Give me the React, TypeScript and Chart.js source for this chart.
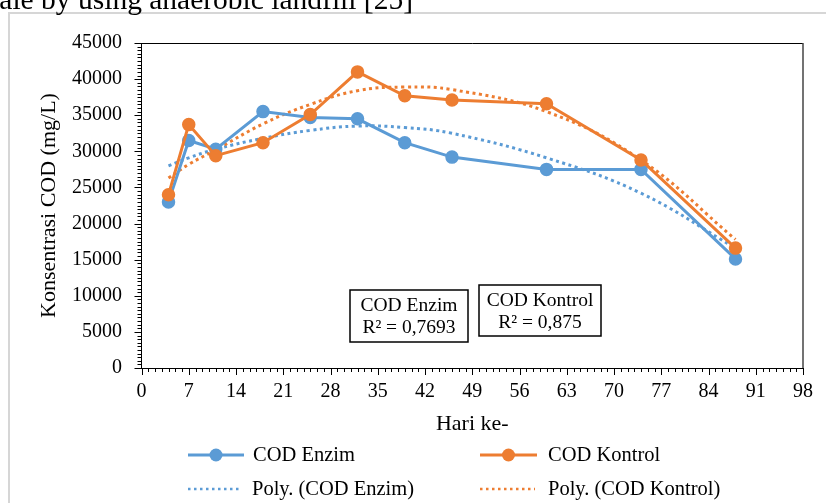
import React, { useEffect, useRef } from "react";
import { Chart, registerables } from "chart.js";

Chart.register(...registerables);

// ---- data ----
const days = [4, 7, 11, 18, 25, 32, 39, 46, 60, 74, 88];
const codEnzim = [23000, 31500, 30300, 35500, 34700, 34500, 31200, 29200, 27500, 27500, 15100];
const codKontrol = [24000, 33700, 29400, 31200, 35100, 41000, 37700, 37100, 36600, 28800, 16600];
// trendline (Excel "Poly.") values at the same days
const polyEnzim = [28000, 29100, 30300, 31800, 32900, 33500, 33300, 32500, 29100, 24200, 16600];
const polyKontrol = [26300, 28200, 30200, 33800, 36500, 38400, 38900, 38550, 35500, 28800, 17800];

const xTickValues = [0, 7, 14, 21, 28, 35, 42, 49, 56, 63, 70, 77, 84, 91, 98];
const yTickValues = [0, 5000, 10000, 15000, 20000, 25000, 30000, 35000, 40000, 45000];
const xMinorStep = 1;
const yMinorStep = 500;

const seriesNames = ["COD Enzim", "COD Kontrol", "Poly. (COD Enzim)", "Poly. (COD Kontrol)"];
const r2Boxes = [
  { title: "COD Enzim", r2: "R\u00B2 = 0,7693" },
  { title: "COD Kontrol", r2: "R\u00B2 = 0,875" },
];
const xTitle = "Hari ke-";
const yTitle = "Konsentrasi COD (mg/L)";
const topText = "ale by using anaerobic landfill [25]";

const BLUE = "#5B9BD5";
const ORANGE = "#ED7D31";
const SERIF = '"Liberation Serif", "Times New Roman", serif';

const pts = (xs: number[], ys: number[]) => xs.map((x, i) => ({ x, y: ys[i] }));

const decor = {
  id: "decor",
  beforeDraw(chart: any) {
    const ctx = chart.ctx as CanvasRenderingContext2D;
    ctx.save();
    ctx.fillStyle = "#fff";
    ctx.fillRect(0, 0, chart.width, chart.height);
    // outer chart frame (light grey)
    ctx.strokeStyle = "#d6d6d6";
    ctx.lineWidth = 2;
    ctx.beginPath();
    ctx.moveTo(9, 503);
    ctx.lineTo(9, 13);
    ctx.lineTo(826, 13);
    ctx.stroke();
    // text of the page above the figure (cut off)
    ctx.fillStyle = "#000";
    ctx.font = `29.5px ${SERIF}`;
    ctx.textAlign = "right";
    ctx.textBaseline = "alphabetic";
    ctx.fillText(topText, 413, 9);
    ctx.restore();
  },
  afterDraw(chart: any) {
    const ctx = chart.ctx as CanvasRenderingContext2D;
    const xs = chart.scales.x;
    const ys = chart.scales.y;
    const ca = chart.chartArea;
    ctx.save();
    // plot border top / right
    ctx.strokeStyle = "#000";
    ctx.lineWidth = 1;
    ctx.beginPath();
    ctx.moveTo(ca.left, Math.round(ca.top) + 0.5);
    ctx.lineTo(ca.right, Math.round(ca.top) + 0.5);
    ctx.stroke();
    ctx.strokeStyle = "#444";
    ctx.lineWidth = 1.5;
    ctx.beginPath();
    ctx.moveTo(ca.right, ca.top);
    ctx.lineTo(ca.right, ca.bottom);
    ctx.stroke();

    // ticks
    ctx.strokeStyle = "#000";
    ctx.lineWidth = 1;
    ctx.beginPath();
    const xMax = xTickValues[xTickValues.length - 1];
    for (let v = 0; v <= xMax + 1e-9; v += xMinorStep) {
      const px = Math.round(xs.getPixelForValue(v)) + 0.5;
      const major = xTickValues.includes(v);
      ctx.moveTo(px, ca.bottom);
      ctx.lineTo(px, ca.bottom + (major ? 7 : 4));
    }
    const yMax = yTickValues[yTickValues.length - 1];
    for (let v = 0; v <= yMax + 1e-9; v += yMinorStep) {
      const py = Math.round(ys.getPixelForValue(v)) + 0.5;
      const major = yTickValues.includes(v);
      ctx.moveTo(ca.left, py);
      ctx.lineTo(ca.left - (major ? 7 : 4), py);
    }
    ctx.stroke();

    // R² boxes
    const boxes = [
      { x: 350, y: 290, w: 118, h: 52 },
      { x: 479, y: 285, w: 122, h: 51 },
    ];
    ctx.font = `19.5px ${SERIF}`;
    ctx.textAlign = "center";
    ctx.textBaseline = "middle";
    boxes.forEach((b, i) => {
      ctx.fillStyle = "#fff";
      ctx.fillRect(b.x, b.y, b.w, b.h);
      ctx.strokeStyle = "#000";
      ctx.lineWidth = 1.5;
      ctx.strokeRect(b.x, b.y, b.w, b.h);
      ctx.fillStyle = "#000";
      ctx.fillText(r2Boxes[i].title, b.x + b.w / 2, b.y + 16);
      ctx.fillText(r2Boxes[i].r2, b.x + b.w / 2, b.y + 38);
    });

    // legend
    const ds = chart.data.datasets;
    const find = (name: string) => ds.find((d: any) => d.label === name);
    const items = [
      { name: seriesNames[0], lx: 188, lw: 56, tx: 253, y: 455 },
      { name: seriesNames[1], lx: 480, lw: 57, tx: 548, y: 455 },
      { name: seriesNames[2], lx: 188, lw: 54, tx: 252, y: 489 },
      { name: seriesNames[3], lx: 480, lw: 55, tx: 548, y: 489 },
    ];
    ctx.font = `20.5px ${SERIF}`;
    ctx.textAlign = "left";
    ctx.textBaseline = "middle";
    items.forEach((it) => {
      const d: any = find(it.name);
      if (!d) return;
      ctx.strokeStyle = d.borderColor;
      ctx.lineWidth = d.borderDash ? 2.5 : d.borderWidth;
      ctx.setLineDash(d.borderDash ? [2.5, 3.5] : []);
      ctx.beginPath();
      ctx.moveTo(it.lx, it.y);
      ctx.lineTo(it.lx + it.lw, it.y);
      ctx.stroke();
      ctx.setLineDash([]);
      if (d.pointRadius > 0) {
        ctx.fillStyle = d.borderColor;
        ctx.beginPath();
        ctx.arc(it.lx + it.lw / 2, it.y, 6.5, 0, Math.PI * 2);
        ctx.fill();
      }
      ctx.fillStyle = "#000";
      ctx.fillText(it.name, it.tx, it.y + 1);
    });
    ctx.restore();
  },
};

export default function App() {
  const ref = useRef<HTMLCanvasElement | null>(null);
  useEffect(() => {
    if (!ref.current) return;
    const tickFont = { family: SERIF, size: 20 };
    const titleFont = { family: SERIF, size: 22 };
    const chart = new Chart(ref.current, {
      type: "line",
      data: {
        datasets: [
          {
            label: seriesNames[1],
            data: pts(days, codKontrol),
            borderColor: ORANGE,
            backgroundColor: ORANGE,
            borderWidth: 3,
            pointRadius: 6,
            pointBorderWidth: 1.5,
            pointBackgroundColor: ORANGE,
            pointBorderColor: ORANGE,
            tension: 0,
            order: 0,
          },
          {
            label: seriesNames[0],
            data: pts(days, codEnzim),
            borderColor: BLUE,
            backgroundColor: BLUE,
            borderWidth: 3,
            pointRadius: 6,
            pointBorderWidth: 1.5,
            pointBackgroundColor: BLUE,
            pointBorderColor: BLUE,
            tension: 0,
            order: 1,
          },
          {
            label: seriesNames[3],
            data: pts(days, polyKontrol),
            borderColor: ORANGE,
            borderWidth: 3,
            borderDash: [3, 3.5],
            pointRadius: 0,
            tension: 0.4,
            order: 2,
          },
          {
            label: seriesNames[2],
            data: pts(days, polyEnzim),
            borderColor: BLUE,
            borderWidth: 3,
            borderDash: [3, 3.5],
            pointRadius: 0,
            tension: 0.4,
            order: 3,
          },
        ],
      },
      options: {
        responsive: false,
        animation: false,
        events: [],
        layout: { padding: { left: 0, top: 43, right: 23, bottom: 0 } },
        plugins: { legend: { display: false }, tooltip: { enabled: false } },
        scales: {
          x: {
            type: "linear",
            min: xTickValues[0],
            max: xTickValues[xTickValues.length - 1],
            afterBuildTicks: (s: any) => {
              s.ticks = xTickValues.map((v) => ({ value: v }));
            },
            ticks: {
              font: tickFont,
              color: "#000",
              padding: 12,
              maxRotation: 0,
              autoSkip: false,
              callback: (v: any) => String(v),
            },
            grid: { display: false, drawTicks: false },
            border: { display: true, color: "#000", width: 1 },
            title: {
              display: true,
              text: xTitle,
              font: titleFont,
              color: "#000",
              padding: { top: 0, bottom: 66 },
            },
            afterFit: (s: any) => {
              s.height = 135;
            },
          },
          y: {
            type: "linear",
            min: yTickValues[0],
            max: yTickValues[yTickValues.length - 1],
            afterBuildTicks: (s: any) => {
              s.ticks = yTickValues.map((v) => ({ value: v }));
            },
            ticks: {
              font: tickFont,
              color: "#000",
              padding: 19.5,
              callback: (v: any) => String(v),
            },
            grid: { display: false, drawTicks: false },
            border: { display: true, color: "#000", width: 1 },
            title: {
              display: true,
              text: yTitle,
              font: titleFont,
              color: "#000",
              padding: { top: 36, bottom: 0 },
            },
            afterFit: (s: any) => {
              s.width = 141.5;
            },
          },
        },
      },
      plugins: [decor],
    } as any);
    return () => chart.destroy();
  }, []);
  return (
    <div
      style={{
        position: "fixed",
        left: 0,
        top: 0,
        width: 826,
        height: 503,
        overflow: "hidden",
        background: "#fff",
      }}
    >
      <canvas ref={ref} width={826} height={503} style={{ display: "block" }} />
    </div>
  );
}
